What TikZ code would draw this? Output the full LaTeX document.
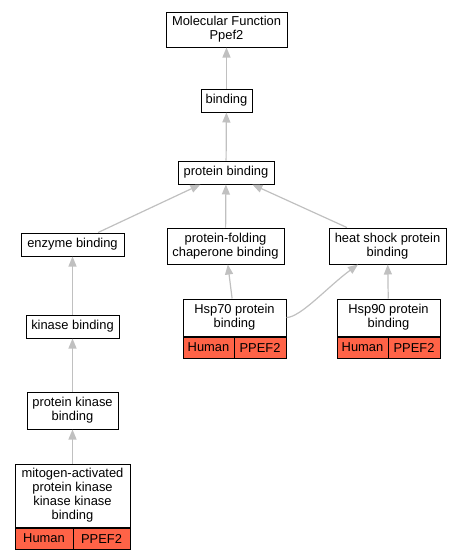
\documentclass[tikz,border=0pt]{standalone}
\usepackage{fontspec}
\setmainfont{Liberation Sans}
\usetikzlibrary{positioning, calc, arrows.meta}
\definecolor{edgegray}{HTML}{C0C0C0}
\definecolor{speciesred}{HTML}{FF6347}

\begin{document}
\begin{tikzpicture}[
				x=1pt, y=-1pt,
				term/.style={draw, line width=1pt, fill=white, align=center, inner sep=1pt,
						font=\fontsize{12.9}{14}\selectfont},
				tag/.style={draw, line width=1pt, fill=speciesred, inner sep=0pt, minimum height=21,
						font=\fontsize{12.9}{14}\selectfont},
				isa/.style={draw=edgegray, line width=1.2pt, -{Triangle[length=10pt, width=8pt]}},
			]
			\useasboundingbox (0,0) rectangle (463,560);

			% terms
			\node[term, minimum width=121, minimum height=35] (molfunc) at (226.5,29.5) {Molecular Function\\Ppef2};
			\node[term, minimum width=51, minimum height=23] (binding) at (226.5,100.5) {binding};
			\node[term, minimum width=96, minimum height=23] (protbind) at (226,172.5) {protein binding};
			\node[term, minimum width=103, minimum height=23] (enzbind) at (72.5,244.5) {enzyme binding};
			\node[term, minimum width=117, minimum height=36] (chaperone) at (225.5,246) {protein-folding\\chaperone binding};
			\node[term, minimum width=117, minimum height=36] (heatshock) at (387.5,246) {heat shock protein\\binding};
			\node[term, minimum width=93, minimum height=23] (kinbind) at (72.5,326.5) {kinase binding};
			\node[term, minimum width=91, minimum height=37] (protkin) at (72.5,410.5) {protein kinase\\binding};

			% annotated terms
			\node[term, minimum width=103, minimum height=37] (hspseventy) at (234.5,317.5) {Hsp70 protein\\binding};
			\node[tag, minimum width=51, anchor=north west] (hspseventyhuman) at (hspseventy.south west) {Human};
			\node[tag, minimum width=52, anchor=north east] (hspseventygene) at (hspseventy.south east) {PPEF2};

			\node[term, minimum width=103, minimum height=37] (hspninety) at (388.5,317.5) {Hsp90 protein\\binding};
			\node[tag, minimum width=51, anchor=north west] (hspninetyhuman) at (hspninety.south west) {Human};
			\node[tag, minimum width=52, anchor=north east] (hspninetygene) at (hspninety.south east) {PPEF2};

			\node[term, minimum width=115, minimum height=63] (mapkkk) at (72.5,495.5) {mitogen-activated\\protein kinase\\kinase kinase\\binding};
			\node[tag, minimum width=58, anchor=north west] (mapkkkhuman) at (mapkkk.south west) {Human};
			\node[tag, minimum width=57, anchor=north east] (mapkkkgene) at (mapkkk.south east) {PPEF2};

			% is_a edges
			\draw[isa] (binding) -- (molfunc);
			\draw[isa] (protbind) -- (binding);
			\draw[isa] (enzbind) -- (protbind);
			\draw[isa] (chaperone) -- (protbind);
			\draw[isa] (heatshock) -- (protbind);
			\draw[isa] (kinbind) -- (enzbind);
			\draw[isa] (protkin) -- (kinbind);
			\draw[isa] (mapkkk) -- (protkin);
			\draw[isa] (hspseventy) -- (chaperone);
			\draw[isa] (hspninety) -- (heatshock);
			\draw[isa] (hspseventy.east) .. controls +(14,0) and +(-30,22) .. ($(heatshock.south)!0.5!(heatshock.south west)$);
		\end{tikzpicture}
\end{document}
